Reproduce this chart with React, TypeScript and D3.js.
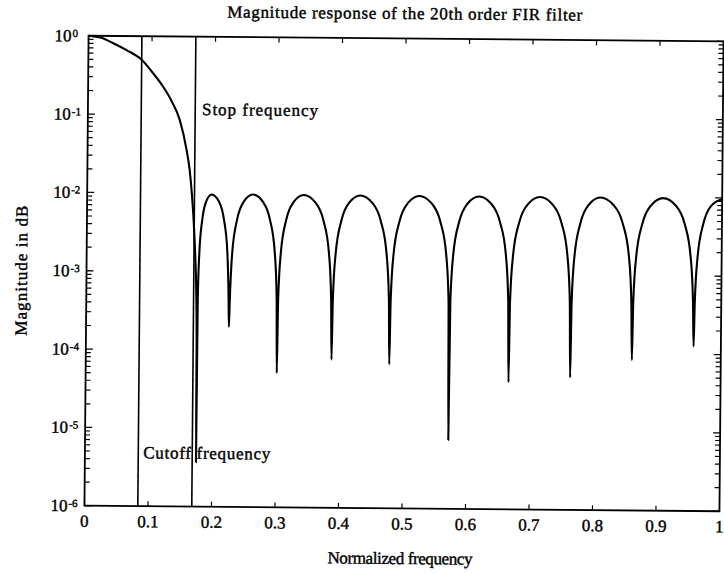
import React from 'react';
import * as d3 from 'd3';

// ---- data ----
const passbandFreq = [0, 0.02, 0.039, 0.06, 0.084, 0.1, 0.118, 0.132, 0.145, 0.156, 0.161, 0.165, 0.168, 0.171, 0.173, 0.1743, 0.175];
const passbandMag = [1, 0.944, 0.807, 0.661, 0.501, 0.355, 0.229, 0.148, 0.0851, 0.0355, 0.02, 0.0095, 0.0045, 0.0016, 0.0006, 0.00015, 0.0000037];

const stopbandFreq = [
  0.1756, 0.1775, 0.1817, 0.1876, 0.196, 0.2076, 0.2157, 0.2215, 0.2241, 0.225,
  0.2261, 0.2293, 0.2365, 0.2466, 0.261, 0.277, 0.2882, 0.2962, 0.2998, 0.301,
  0.3022, 0.3058, 0.3138, 0.325, 0.341, 0.3594, 0.3723, 0.3815, 0.3856, 0.387,
  0.3883, 0.3922, 0.4008, 0.4128, 0.43, 0.4492, 0.4626, 0.4722, 0.4766, 0.478,
  0.4794, 0.4834, 0.4924, 0.505, 0.523, 0.5426, 0.5563, 0.5661, 0.5705, 0.572,
  0.5734, 0.5774, 0.5864, 0.599, 0.617, 0.6366, 0.6503, 0.6601, 0.6645, 0.666,
  0.6674, 0.6716, 0.681, 0.6942, 0.713, 0.733, 0.747, 0.757, 0.7615, 0.763,
  0.7644, 0.7684, 0.7774, 0.79, 0.808, 0.8288, 0.8434, 0.8538, 0.8584, 0.86,
  0.8614, 0.8656, 0.875, 0.8882, 0.907, 0.927, 0.941, 0.951, 0.9555, 0.957,
  0.9583, 0.9622, 0.9708, 0.9828, 1.0,
];
const stopbandMag = [
  4.6e-4, 1.8e-3, 4.7e-3, 7.9e-3, 9.7e-3, 7.9e-3, 4.7e-3, 1.8e-3, 4.6e-4, 2.0e-4,
  4.6e-4, 1.8e-3, 4.7e-3, 7.9e-3, 9.8e-3, 7.9e-3, 4.7e-3, 1.8e-3, 4.6e-4, 5.2e-5,
  4.6e-4, 1.8e-3, 4.7e-3, 7.9e-3, 9.8e-3, 7.9e-3, 4.7e-3, 1.8e-3, 4.6e-4, 7.8e-5,
  4.6e-4, 1.8e-3, 4.7e-3, 7.9e-3, 9.8e-3, 7.9e-3, 4.7e-3, 1.8e-3, 4.6e-4, 6.9e-5,
  4.6e-4, 1.8e-3, 4.7e-3, 7.9e-3, 9.8e-3, 7.9e-3, 4.7e-3, 1.8e-3, 4.6e-4, 7.6e-6,
  4.6e-4, 1.8e-3, 4.7e-3, 7.9e-3, 9.8e-3, 7.9e-3, 4.7e-3, 1.8e-3, 4.6e-4, 4.2e-5,
  4.6e-4, 1.8e-3, 4.7e-3, 7.9e-3, 9.8e-3, 7.9e-3, 4.7e-3, 1.8e-3, 4.6e-4, 4.9e-5,
  4.6e-4, 1.8e-3, 4.7e-3, 7.9e-3, 9.8e-3, 7.9e-3, 4.7e-3, 1.8e-3, 4.6e-4, 8.3e-5,
  4.6e-4, 1.8e-3, 4.7e-3, 7.9e-3, 9.8e-3, 7.9e-3, 4.7e-3, 1.8e-3, 4.6e-4, 1.26e-4,
  4.6e-4, 1.8e-3, 4.7e-3, 7.9e-3, 9.6e-3,
];

const xTickValues = [0, 0.1, 0.2, 0.3, 0.4, 0.5, 0.6, 0.7, 0.8, 0.9, 1];
const xTickLabels = ['0', '0.1', '0.2', '0.3', '0.4', '0.5', '0.6', '0.7', '0.8', '0.9', '1'];
const yDecadeExponents = [0, -1, -2, -3, -4, -5, -6];
const yExponentLabels = ['0', '-1', '-2', '-3', '-4', '-5', '-6'];
const minorMultipliers = [2, 3, 4, 5, 6, 7, 8, 9];

const cutoffFrequency = 0.084;
const stopFrequency = 0.169;

const titleText = 'Magnitude response of the 20th order FIR filter';
const xLabelText = 'Normalized frequency';
const yLabelText = 'Magnitude in dB';
const stopLabelText = 'Stop frequency';
const cutoffLabelText = 'Cutoff frequency';

export default function App() {
  const W = 724;
  const H = 573;
  const L = 86.5, R = 721.5, T = 38.5, B = 508.5;
  const x = d3.scaleLinear().domain([0, 1]).range([L, R]);
  const y = d3.scaleLog().domain([1e-6, 1]).range([B, T]);

  const pts: [number, number][] = [
    ...passbandFreq.map((f, i) => [f, passbandMag[i]] as [number, number]),
    ...stopbandFreq.map((f, i) => [f, stopbandMag[i]] as [number, number]),
  ];
  const line = d3
    .line<[number, number]>()
    .x((d) => x(d[0]))
    .y((d) => y(d[1]))
    .curve(d3.curveMonotoneX);

  const minorTicks: number[] = [];
  for (let e = -6; e < 0; e++) {
    for (const k of minorMultipliers) minorTicks.push(k * Math.pow(10, e));
  }
  const majorTicks = yDecadeExponents.map((e) => Math.pow(10, e));

  const font = "'Liberation Serif', 'Times New Roman', Times, serif";
  const textStyle = { fontFamily: font, fill: '#000', stroke: '#000', strokeWidth: 0.4 } as const;

  return (
    <svg
      width={W}
      height={H}
      viewBox={`0 0 ${W} ${H}`}
      style={{ position: 'absolute', left: 0, top: 0, background: '#fff' }}
    >
      <rect x={0} y={0} width={W} height={H} fill="#fff" />
      <defs>
        <clipPath id="plotClip">
          <rect x={L} y={T - 2} width={R - L} height={B - T + 2} />
        </clipPath>
      </defs>
      <g transform="rotate(0.5, 404, 273.5)">
        {/* title */}
        <text x={402.5} y={19} textAnchor="middle" fontSize={17} textLength={355} style={textStyle}>
          {titleText}
        </text>

        {/* curve */}
        <g clipPath="url(#plotClip)">
          <path d={line(pts) || ''} fill="none" stroke="#000" strokeWidth={2.1} strokeLinejoin="round" />
        </g>

        {/* marker lines */}
        <line x1={x(cutoffFrequency)} x2={x(cutoffFrequency)} y1={T} y2={B} stroke="#000" strokeWidth={1.6} />
        <line x1={x(stopFrequency)} x2={x(stopFrequency)} y1={T} y2={B} stroke="#000" strokeWidth={1.6} />

        {/* left & right minor ticks */}
        {minorTicks.map((v, i) => (
          <g key={'mt' + i}>
            <line x1={L} x2={L + 5} y1={y(v)} y2={y(v)} stroke="#000" strokeWidth={1.2} />
            <line x1={R} x2={R - 5} y1={y(v)} y2={y(v)} stroke="#000" strokeWidth={1.2} />
          </g>
        ))}
        {majorTicks.map((v, i) => (
          <g key={'Mt' + i}>
            <line x1={L} x2={L + 7} y1={y(v)} y2={y(v)} stroke="#000" strokeWidth={1.3} />
            <line x1={R} x2={R - 7} y1={y(v)} y2={y(v)} stroke="#000" strokeWidth={1.3} />
            <text x={L - 17} y={y(v) + 5.7} textAnchor="end" fontSize={17} style={textStyle}>
              10
            </text>
            <text x={L - 16} y={y(v) + 1.3} textAnchor="start" fontSize={11} style={textStyle}>
              {yExponentLabels[i]}
            </text>
          </g>
        ))}

        {/* x ticks */}
        {xTickValues.map((v, i) => (
          <g key={'xt' + i}>
            <line x1={x(v)} x2={x(v)} y1={B} y2={B - 5} stroke="#000" strokeWidth={1.2} />
            <line x1={x(v)} x2={x(v)} y1={T} y2={T + 5} stroke="#000" strokeWidth={1.2} />
            <text x={x(v)} y={B + 21} textAnchor="middle" fontSize={17} style={textStyle}>
              {xTickLabels[i]}
            </text>
          </g>
        ))}

        {/* frame */}
        <rect x={L} y={T} width={R - L} height={B - T} fill="none" stroke="#000" strokeWidth={1.8} />

        {/* annotations */}
        <text x={200.6} y={116.8} fontSize={17} textLength={116} style={textStyle}>
          {stopLabelText}
        </text>
        <text x={144.9} y={460.6} fontSize={17} textLength={127} style={textStyle}>
          {cutoffLabelText}
        </text>

        {/* axis labels */}
        <text x={402.5} y={564} textAnchor="middle" fontSize={17} textLength={145} style={textStyle}>
          {xLabelText}
        </text>
        <text
          transform="translate(27, 274) rotate(-90)"
          textAnchor="middle"
          fontSize={17}
          textLength={130}
          style={textStyle}
        >
          {yLabelText}
        </text>
      </g>
    </svg>
  );
}
